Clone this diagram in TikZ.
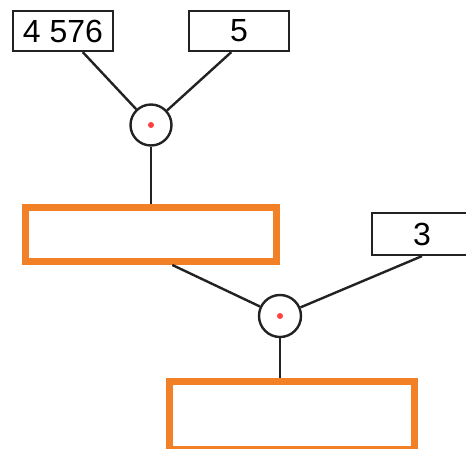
\documentclass[tikz,border=0pt]{standalone}
\usepackage{fontspec}
\setmainfont{Liberation Sans}
\definecolor{boxorange}{RGB}{242,128,38}
\definecolor{inkgray}{RGB}{34,34,34}
\tikzset{
  numbox/.style={draw=inkgray,line width=2.2pt,inner sep=0pt,minimum width=100pt,minimum height=40pt,
    font=\fontsize{32}{38}\selectfont},
  resultbox/.style={draw=boxorange,line width=7pt,inner sep=0pt},
  opcircle/.style={circle,draw=inkgray,line width=2.4pt,inner sep=0pt},
  link/.style={draw=inkgray,line width=2.4pt},
  reddot/.style={circle,fill=red!75,inner sep=0pt,minimum size=6pt}
}

\begin{document}
\begin{tikzpicture}[x=1pt, y=-1pt]
            \useasboundingbox (0,0) rectangle (466,448);
            \clip (0,0) rectangle (466,448);
            \node[numbox] (B1) at (63,31)  {4 576};
            \node[numbox] (B2) at (239,31)  {5};
            \node[opcircle,minimum size=41pt] (C1) at (151,125) {};
            \node[reddot] (D1) at (C1) {};

            \node[resultbox,minimum width=251pt,minimum height=54pt] (R1) at (151,234.5) {};
            \node[numbox,minimum height=42pt] (B3) at (422,234) {3};
            \node[opcircle,minimum size=42pt] (C2) at (280,316) {};
            \node[reddot] (D2) at (C2) {};

            \node[resultbox,minimum width=245pt,minimum height=68pt] (R2) at (292,415) {};

            \draw[link] (B1) -- (C1) (B2.250) -- (C1);
            \draw[link] (C1) -- (R1);
            \draw[link] (R1.305) -- (C2) (B3.south) -- (C2);
            \draw[link] (C2.south) -- (C2.south |- R2.north);

        \end{tikzpicture}
\end{document}
